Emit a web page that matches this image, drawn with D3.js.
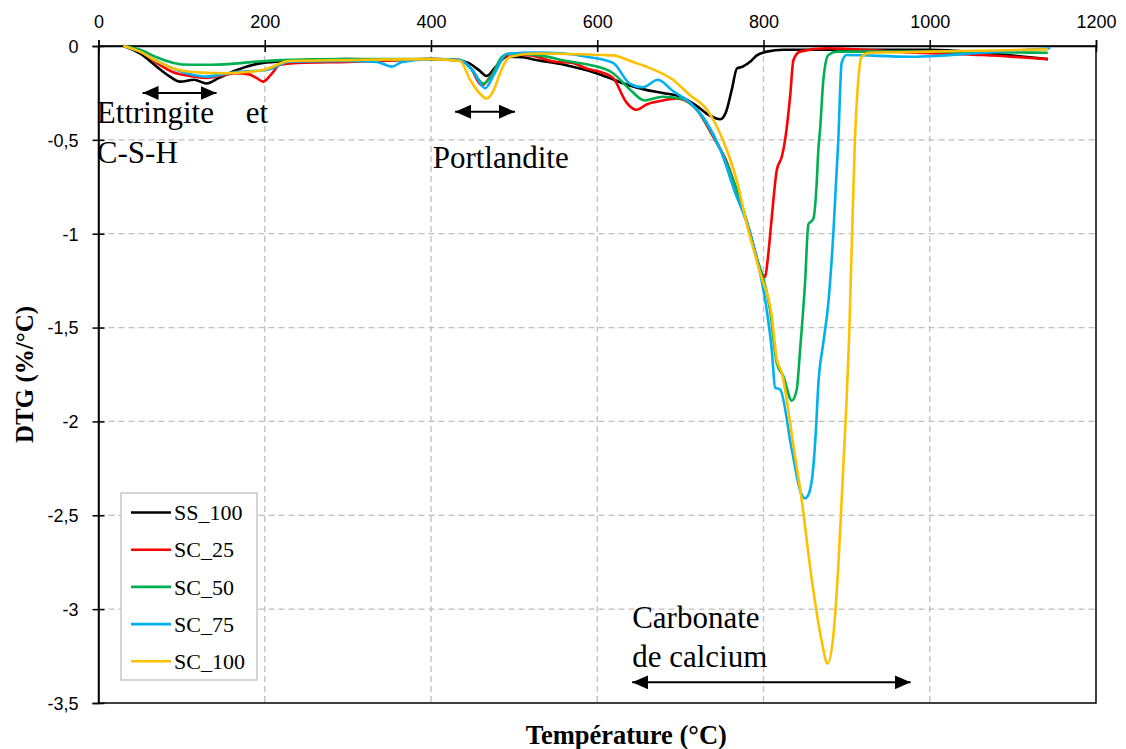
<!DOCTYPE html>
<html>
<head>
<meta charset="utf-8">
<script src="https://cdn.jsdelivr.net/npm/d3@7"></script>
<style>
  body { margin: 0; background: #fff; }
  svg { display: block; font-family: "Liberation Serif", "DejaVu Serif", serif; }
  .grid line { stroke: #bfbfbf; stroke-width: 1.3; stroke-dasharray: 6 4; }
  .axis text { font-size: 18px; fill: #000; }
  .axis line, .axis path { stroke: #000; stroke-width: 1.5; }
</style>
</head>
<body>
<div id="chart"></div>
<script>
// Series data: [temperature °C, DTG %/°C]
const seriesNames = ["SS_100", "SC_25", "SC_50", "SC_75", "SC_100"];
const seriesColors = ["#000000", "#ff0000", "#00b050", "#00b0f0", "#ffc000"];

const ss100 = [[30,0],[50,-0.04],[70,-0.11],[85,-0.16],[98,-0.19],[115,-0.18],[130,-0.2],[145,-0.17],[165,-0.13],[198,-0.09],[230,-0.08],[300,-0.07],[350,-0.075],[400,-0.07],[430,-0.075],[445,-0.09],[458,-0.13],[467,-0.16],[478,-0.11],[491,-0.057],[510,-0.06],[527,-0.075],[560,-0.1],[579,-0.12],[599,-0.145],[620,-0.18],[639,-0.21],[660,-0.235],[679,-0.25],[700,-0.27],[720,-0.32],[735,-0.37],[748,-0.39],[755,-0.35],[762,-0.23],[768,-0.12],[775,-0.11],[785,-0.08],[792,-0.05],[804,-0.03],[824,-0.02],[900,-0.02],[1000,-0.02],[1064,-0.037],[1105,-0.053],[1142,-0.07]];

const sc25 = [[30,0],[50,-0.03],[70,-0.09],[90,-0.14],[110,-0.16],[130,-0.17],[150,-0.155],[165,-0.145],[180,-0.15],[190,-0.17],[198,-0.19],[208,-0.15],[218,-0.1],[240,-0.09],[300,-0.085],[400,-0.07],[435,-0.075],[448,-0.12],[461,-0.21],[472,-0.16],[485,-0.07],[495,-0.045],[520,-0.05],[547,-0.083],[570,-0.09],[587,-0.12],[605,-0.14],[619,-0.17],[635,-0.3],[647,-0.34],[660,-0.31],[679,-0.29],[696,-0.28],[710,-0.3],[720,-0.34],[739,-0.48],[756,-0.62],[770,-0.8],[784,-1.0],[798,-1.21],[802,-1.23],[805,-1.14],[810,-0.91],[816,-0.66],[822,-0.59],[826,-0.5],[832,-0.27],[836,-0.075],[844,-0.03],[876,-0.012],[920,-0.02],[984,-0.036],[1064,-0.048],[1142,-0.07]];

const sc50 = [[30,0],[50,-0.02],[70,-0.06],[90,-0.09],[110,-0.1],[130,-0.1],[160,-0.095],[190,-0.083],[220,-0.075],[300,-0.07],[400,-0.07],[435,-0.075],[448,-0.12],[463,-0.2],[474,-0.15],[485,-0.06],[495,-0.04],[530,-0.05],[567,-0.083],[590,-0.1],[619,-0.145],[639,-0.23],[657,-0.29],[679,-0.27],[700,-0.28],[720,-0.34],[740,-0.48],[758,-0.65],[775,-0.86],[790,-1.1],[808,-1.41],[816,-1.69],[824,-1.76],[834,-1.89],[840,-1.83],[844,-1.62],[850,-1.26],[854,-0.95],[860,-0.92],[864,-0.73],[866,-0.55],[868,-0.45],[872,-0.18],[878,-0.048],[888,-0.03],[1000,-0.03],[1142,-0.036]];

const sc75 = [[30,0],[50,-0.03],[70,-0.08],[90,-0.12],[110,-0.15],[130,-0.163],[150,-0.15],[170,-0.137],[202,-0.128],[230,-0.083],[300,-0.08],[335,-0.085],[353,-0.11],[365,-0.085],[400,-0.07],[435,-0.075],[450,-0.13],[465,-0.225],[476,-0.15],[491,-0.043],[527,-0.035],[560,-0.04],[587,-0.057],[619,-0.09],[639,-0.2],[655,-0.22],[673,-0.18],[691,-0.24],[711,-0.3],[732,-0.41],[748,-0.55],[765,-0.77],[784,-1.0],[804,-1.41],[810,-1.62],[814,-1.82],[820,-1.83],[834,-2.15],[845,-2.38],[850,-2.41],[855,-2.38],[860,-2.24],[863,-2.05],[866,-1.8],[872,-1.58],[878,-1.37],[884,-1.0],[890,-0.5],[894,-0.09],[900,-0.048],[976,-0.057],[1008,-0.053],[1050,-0.04],[1100,-0.025],[1145,-0.012]];

const sc100 = [[30,0],[50,-0.03],[70,-0.08],[90,-0.12],[110,-0.137],[150,-0.145],[175,-0.14],[198,-0.128],[230,-0.08],[300,-0.075],[400,-0.07],[435,-0.08],[447,-0.18],[458,-0.25],[467,-0.28],[476,-0.23],[483,-0.145],[495,-0.057],[527,-0.04],[607,-0.048],[619,-0.05],[640,-0.08],[659,-0.11],[691,-0.18],[711,-0.26],[732,-0.34],[751,-0.5],[768,-0.72],[780,-0.95],[796,-1.21],[810,-1.44],[816,-1.67],[822,-1.74],[836,-2.13],[846,-2.42],[858,-2.84],[870,-3.17],[877,-3.29],[884,-3.14],[890,-2.77],[896,-2.24],[900,-1.88],[903,-1.55],[906,-1.09],[910,-0.5],[914,-0.18],[918,-0.057],[928,-0.036],[1000,-0.03],[1142,-0.018]];

const seriesValues = [ss100, sc25, sc50, sc75, sc100];

const xTicks = [0, 200, 400, 600, 800, 1000, 1200];
const yTicks = [0, -0.5, -1, -1.5, -2, -2.5, -3, -3.5];

// Annotations in data units
const labels = [
  { text: "Ettringite", x: -2, y: -0.41 },
  { text: "et", x: 177, y: -0.41 },
  { text: "C-S-H", x: -2, y: -0.625 },
  { text: "Portlandite", x: 402, y: -0.65 },
  { text: "Carbonate", x: 642, y: -3.10 },
  { text: "de calcium", x: 642, y: -3.31 }
];
const arrows = [
  { x1: 53, x2: 142, y: -0.25 },
  { x1: 429, x2: 501, y: -0.35 },
  { x1: 642, x2: 977, y: -3.39 }
];

const width = 1126, height = 749;
const margin = { top: 46, right: 30, bottom: 46, left: 98.5 };

const svg = d3.select("#chart").append("svg")
  .attr("width", width)
  .attr("height", height);

const x = d3.scaleLinear().domain([0, 1200]).range([margin.left, width - margin.right]);
const y = d3.scaleLinear().domain([-3.5, 0]).range([height - margin.bottom, margin.top]);

// Gridlines
const grid = svg.append("g").attr("class", "grid");
grid.selectAll(".gx").data(xTicks.slice(1, -1)).enter().append("line")
  .attr("x1", d => x(d)).attr("x2", d => x(d))
  .attr("y1", y(0)).attr("y2", y(-3.5));
grid.selectAll(".gy").data(yTicks.slice(1, -1)).enter().append("line")
  .attr("x1", x(0)).attr("x2", x(1200))
  .attr("y1", d => y(d)).attr("y2", d => y(d));

// Plot frame
svg.append("rect")
  .attr("x", x(0)).attr("y", y(0))
  .attr("width", x(1200) - x(0)).attr("height", y(-3.5) - y(0))
  .attr("fill", "none").attr("stroke", "#000").attr("stroke-width", 1.5);

// Axes
const fmt = d => String(d).replace(".", ",");
const xAxis = svg.append("g").attr("class", "axis")
  .attr("transform", `translate(0,${y(0)})`)
  .call(d3.axisTop(x).tickValues(xTicks).tickSize(6).tickPadding(12).tickFormat(d3.format("d")));
xAxis.selectAll(".tick line").attr("y2", 6).attr("y1", -6);

const yAxis = svg.append("g").attr("class", "axis")
  .attr("transform", `translate(${x(0)},0)`)
  .call(d3.axisLeft(y).tickValues(yTicks).tickSize(6).tickPadding(14).tickFormat(fmt));
yAxis.selectAll(".tick line").attr("x2", 6).attr("x1", -6);
yAxis.selectAll(".tick text").attr("dy", "0.35em");

// Lines
const line = d3.line()
  .x(d => x(d[0]))
  .y(d => y(d[1]))
  .curve(d3.curveMonotoneX);

svg.append("g").selectAll("path")
  .data(seriesValues)
  .enter().append("path")
  .attr("d", line)
  .attr("fill", "none")
  .attr("stroke", (d, i) => seriesColors[i])
  .attr("stroke-width", 2.6)
  .attr("stroke-linejoin", "round");

// Double-headed arrows
const defs = svg.append("defs");
["arrow-end", "arrow-start"].forEach((id, k) => {
  defs.append("marker")
    .attr("id", id)
    .attr("markerUnits", "userSpaceOnUse")
    .attr("markerWidth", 16).attr("markerHeight", 14)
    .attr("refX", k === 0 ? 16 : 0).attr("refY", 7)
    .attr("orient", "auto")
    .append("path")
    .attr("d", k === 0 ? "M0,0 L16,7 L0,14 Z" : "M16,0 L0,7 L16,14 Z")
    .attr("fill", "#000");
});
svg.append("g").selectAll("line")
  .data(arrows)
  .enter().append("line")
  .attr("x1", d => x(d.x1)).attr("x2", d => x(d.x2))
  .attr("y1", d => y(d.y)).attr("y2", d => y(d.y))
  .attr("stroke", "#000").attr("stroke-width", 2)
  .attr("marker-start", "url(#arrow-start)")
  .attr("marker-end", "url(#arrow-end)");

// Annotation text
svg.append("g").selectAll("text")
  .data(labels)
  .enter().append("text")
  .attr("x", d => x(d.x)).attr("y", d => y(d.y))
  .attr("font-size", 31)
  .text(d => d.text);

// Axis titles
svg.append("text")
  .attr("x", (x(0) + x(1200)) / 2 + 29).attr("y", 744)
  .attr("text-anchor", "middle")
  .attr("font-size", 26.5).attr("font-weight", "bold")
  .text("Température (°C)");

svg.append("text")
  .attr("transform", `translate(33,${(y(0) + y(-3.5)) / 2}) rotate(-90)`)
  .attr("text-anchor", "middle")
  .attr("font-size", 25).attr("font-weight", "bold")
  .text("DTG (%/°C)");

// Legend
const legend = svg.append("g").attr("transform", "translate(121,493)");
legend.append("rect")
  .attr("width", 136).attr("height", 187)
  .attr("fill", "#fff").attr("stroke", "#bfbfbf").attr("stroke-width", 1.3);
const item = legend.selectAll(".item")
  .data(seriesNames)
  .enter().append("g")
  .attr("transform", (d, i) => `translate(0,${19.5 + i * 37.2})`);
item.append("line")
  .attr("x1", 10).attr("x2", 50)
  .attr("stroke", (d, i) => seriesColors[i])
  .attr("stroke-width", 2.6);
item.append("text")
  .attr("x", 53).attr("dy", "0.35em")
  .attr("font-size", 22)
  .text(d => d);
</script>
</body>
</html>
